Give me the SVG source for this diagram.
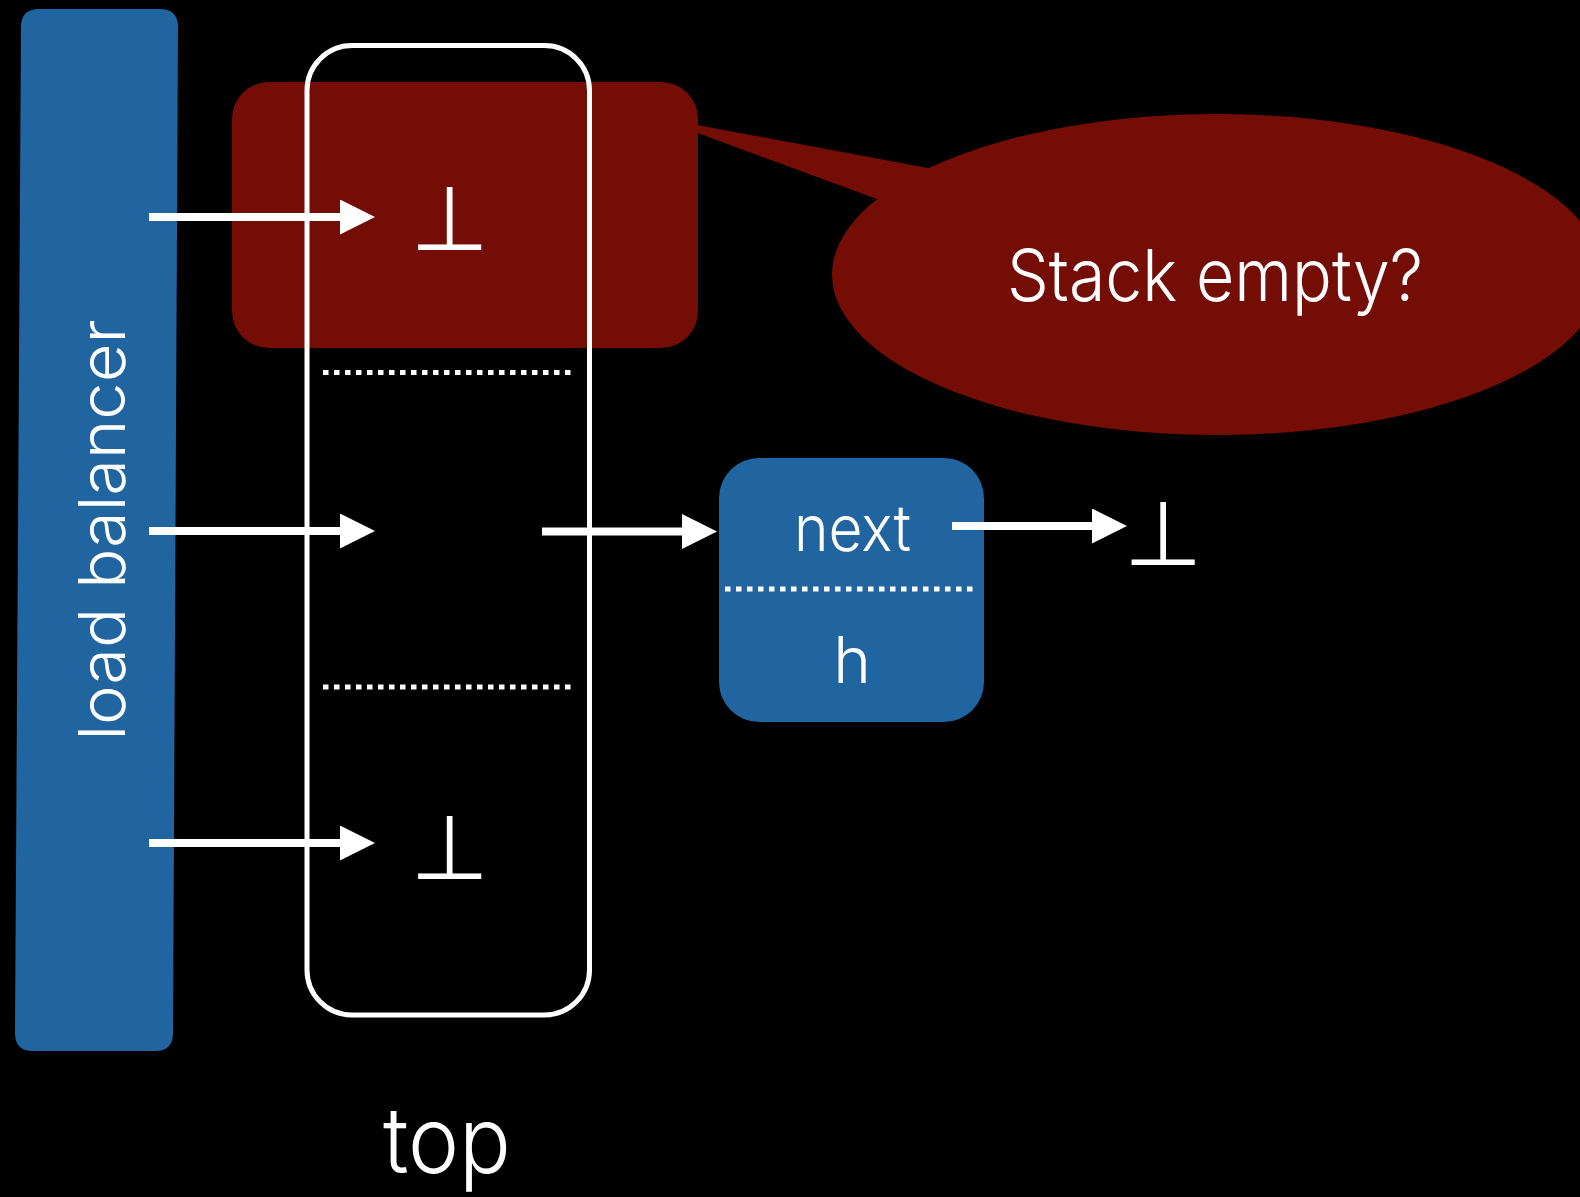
<svg xmlns="http://www.w3.org/2000/svg" width="1580" height="1197" viewBox="0 0 1580 1197">
  <style>
    .lbl { fill: #ffffff; font-family: Inter, "Liberation Sans", Arial, sans-serif; font-weight: 300; }
    .bot { fill: #ffffff; font-family: "DejaVu Sans", sans-serif; font-size: 90px; text-anchor: middle; }
    .blue { fill: #2064a0; }
    .red { fill: #730d06; }
    .dots { stroke: #ffffff; stroke-width: 5; stroke-dasharray: 5.5 5.5; fill: none; }
    .arrow { stroke: #ffffff; stroke-width: 8; fill: none; marker-end: url(#head); }
  </style>
  <defs>
    <marker id="head" markerUnits="userSpaceOnUse" markerWidth="36" markerHeight="36" refX="5" refY="17.5" orient="auto">
      <path d="M0,0 L35,17.5 L0,35 Z" fill="#ffffff"/>
    </marker>
  </defs>

  <rect width="1580" height="1197" fill="#000000"/>

  <!-- load balancer column -->
  <g id="load-balancer">
    <path class="blue" d="M39,9 L160,9 Q178,9 178,27 L173,1033 Q173,1051 155,1051 L33,1051 Q15,1051 15,1033 L21,27 Q21,9 39,9 Z"/>
    <text class="lbl" x="125" y="530" font-size="64" text-anchor="middle" textLength="421" lengthAdjust="spacingAndGlyphs" transform="rotate(-90 125 530)">load balancer</text>
  </g>

  <!-- highlight over the first slot, with callout -->
  <g id="highlight">
    <rect class="red" x="232" y="82" width="466" height="266" rx="37"/>
  </g>
  <g id="callout">
    <polygon class="red" points="654,117 960,174 900,207.5"/>
    <ellipse class="red" cx="1217" cy="274.5" rx="385" ry="160.5"/>
    <text class="lbl" x="1215" y="301" font-size="72" text-anchor="middle" textLength="416" lengthAdjust="spacingAndGlyphs">Stack empty?</text>
  </g>

  <!-- top array of stack heads -->
  <g id="top-array">
    <rect x="307" y="45.5" width="282.5" height="969.5" rx="45" fill="none" stroke="#ffffff" stroke-width="5"/>
    <line class="dots" x1="323" y1="372.5" x2="574" y2="372.5"/>
    <line class="dots" x1="323" y1="687" x2="574" y2="687"/>
    <text class="bot" x="449.5" y="250">⊥</text>
    <text class="bot" x="449.5" y="879">⊥</text>
    <text class="lbl" x="447" y="1173" font-size="92" text-anchor="middle" textLength="128" lengthAdjust="spacingAndGlyphs">top</text>
  </g>

  <!-- stack node -->
  <g id="node">
    <rect class="blue" x="719" y="458" width="265" height="264" rx="40"/>
    <line class="dots" x1="725" y1="589" x2="977" y2="589"/>
    <text class="lbl" x="852.5" y="551" font-size="64" text-anchor="middle" textLength="117" lengthAdjust="spacingAndGlyphs">next</text>
    <text class="lbl" x="852" y="683" font-size="64" text-anchor="middle">h</text>
  </g>

  <g id="null-end">
    <text class="bot" x="1163" y="565">⊥</text>
  </g>

  <!-- connectors -->
  <g id="connectors">
    <line class="arrow" x1="149" y1="217" x2="345" y2="217"/>
    <line class="arrow" x1="149" y1="531" x2="345" y2="531"/>
    <line class="arrow" x1="149" y1="843" x2="345" y2="843"/>
    <line class="arrow" x1="542" y1="531.5" x2="687" y2="531.5"/>
    <line class="arrow" x1="952" y1="526" x2="1097" y2="526"/>
  </g>
</svg>
